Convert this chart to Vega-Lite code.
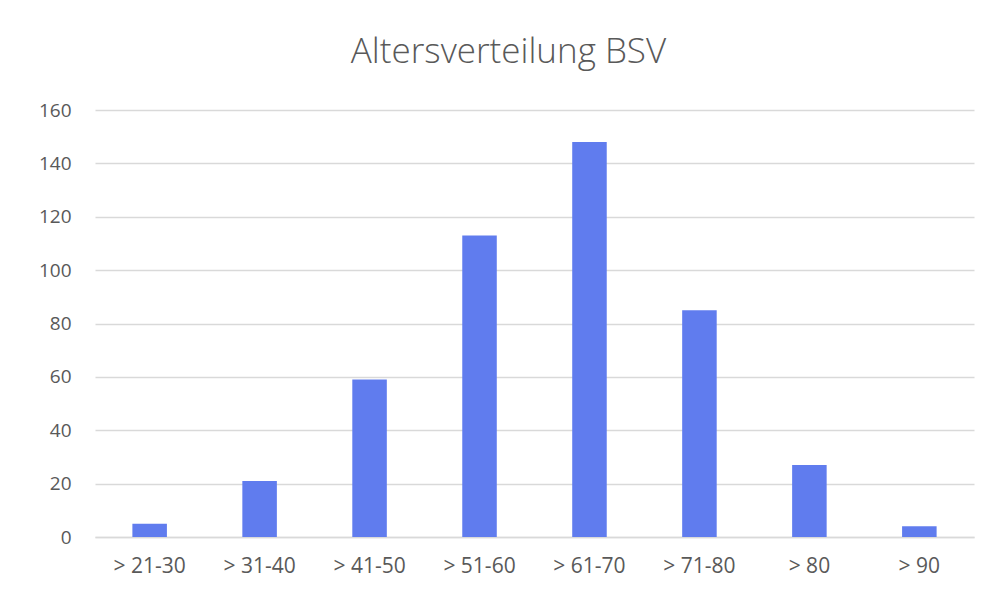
{
  "$schema": "https://vega.github.io/schema/vega-lite/v6.json",
  "width": 879,
  "height": 427,
  "autosize": {"type": "none"},
  "padding": {"left": 95, "top": 110, "right": 9, "bottom": 56},
  "background": "white",
  "title": {
    "text": "Altersverteilung BSV",
    "font": "Open Sans",
    "fontSize": 35,
    "fontWeight": 300,
    "color": "#595959",
    "anchor": "middle",
    "frame": "group",
    "baseline": "alphabetic",
    "dx": -26,
    "offset": 3
  },
  "data": {
    "values": [
      {"group": "> 21-30", "count": 5},
      {"group": "> 31-40", "count": 21},
      {"group": "> 41-50", "count": 59},
      {"group": "> 51-60", "count": 113},
      {"group": "> 61-70", "count": 148},
      {"group": "> 71-80", "count": 85},
      {"group": "> 80", "count": 27},
      {"group": "> 90", "count": 4}
    ]
  },
  "mark": {"type": "bar", "color": "#607CEE"},
  "encoding": {
    "x": {
      "field": "group",
      "type": "nominal",
      "sort": null,
      "scale": {"paddingInner": 0.686, "paddingOuter": 0.34},
      "axis": {
        "title": null,
        "labelAngle": 0,
        "labelFont": "Open Sans",
        "labelFontSize": 21,
        "labelColor": "#595959",
        "labelPadding": 18,
        "ticks": false,
        "tickSize": 0,
        "domainColor": "#D9D9D9",
        "domainWidth": 1.5,
        "grid": false
      }
    },
    "y": {
      "field": "count",
      "type": "quantitative",
      "scale": {"domain": [0, 160]},
      "axis": {
        "title": null,
        "values": [0, 20, 40, 60, 80, 100, 120, 140, 160],
        "labelFont": "Open Sans",
        "labelFontSize": 19,
        "labelColor": "#595959",
        "labelPadding": 24,
        "ticks": false,
        "tickSize": 0,
        "domain": false,
        "grid": true,
        "gridColor": "#D9D9D9",
        "gridWidth": 1.5
      }
    }
  },
  "config": {"view": {"stroke": null}}
}
